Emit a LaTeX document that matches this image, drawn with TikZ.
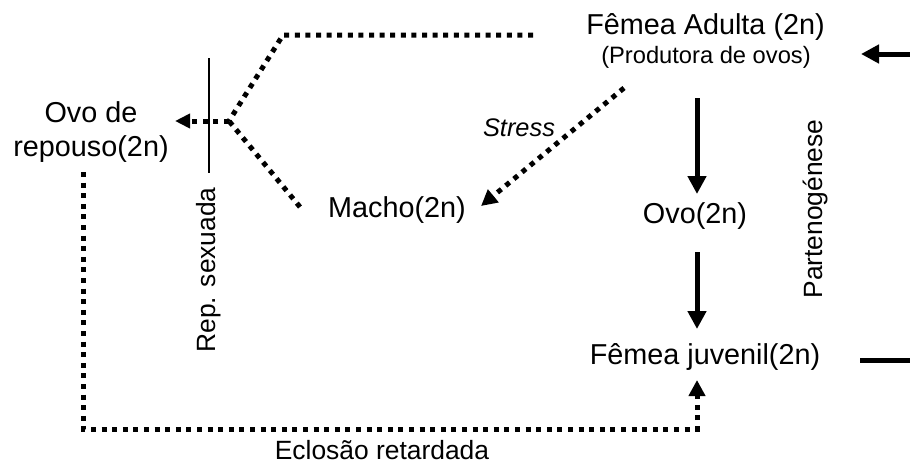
\documentclass[tikz,border=0pt]{standalone}
\usepackage{fontspec}
\setmainfont{Liberation Sans}
\usetikzlibrary{arrows.meta}
\begin{document}
\begin{tikzpicture}[x=1pt,y=-1pt,
  lbl/.style={inner sep=0pt, font=\fontsize{28.8}{34}\selectfont, align=center},
  smlbl/.style={inner sep=0pt, font=\fontsize{26.4}{31}\selectfont},
  sublbl/.style={inner sep=0pt, font=\fontsize{23.7}{28}\selectfont},
  dotline/.style={line width=5pt, dash pattern=on 5pt off 5.6pt},
  solidarr/.style={line width=5pt, -{Triangle[length=18pt,width=18pt]}},
  dotarr/.style={dotline, -{Triangle[length=16pt,width=16pt]}},
  thinline/.style={line width=1.8pt}
]
\useasboundingbox (0,0) rectangle (910,466);

% labels
\node[lbl] (fa) at (705.5,27) {Fêmea Adulta (2n)};
\node[sublbl] (fasub) at (706,57) {(Produtora de ovos)};
\node[lbl] (ovo) at (695,216) {Ovo(2n)};
\node[lbl] (fj) at (705,357) {Fêmea juvenil(2n)};
\node[lbl] (macho) at (397,210) {Macho(2n)};
\node[lbl] (ovorep) at (91,132) {Ovo de\\repouso(2n)};
\node[inner sep=0pt, font=\fontsize{25.4}{30}\selectfont\itshape] (stress) at (519,128) {Stress};
\node[smlbl, rotate=90] (parten) at (816,209) {Partenogénese};
\node[smlbl, rotate=90] (repsex) at (209,270) {Rep. sexuada};
\node[smlbl, anchor=base] (eclosao) at (382,459.5) {Eclosão retardada};

% connector coordinates
\coordinate (a1) at (697,98);
\coordinate (a2) at (697,194);
\coordinate (b1) at (697,252);
\coordinate (b2) at (697,329);
\coordinate (rin) at (910,54);
\coordinate (rintip) at (861,54);
\coordinate (rout) at (860,360.5);
\coordinate (routend) at (910,360.5);
\coordinate (topend) at (533,35);
\coordinate (topbend) at (283,35);
\coordinate (junc) at (229,121);
\coordinate (reptip) at (175,121);
\coordinate (machoend) at (300,207);
\coordinate (stressstart) at (624,88);
\coordinate (stresstip) at (481,206);
\coordinate (bot1) at (83,172);
\coordinate (bot2) at (83,429);
\coordinate (bot3) at (697,429);
\coordinate (bottip) at (697,380);
\coordinate (div1) at (209,58);
\coordinate (div2) at (209,173);

% solid arrows
\draw[solidarr] (a1) -- (a2);
\draw[solidarr] (b1) -- (b2);
\draw[solidarr] (rin) -- (rintip);
\draw[line width=5pt] (rout) -- (routend);

% sexual reproduction branch
\draw[dotline] (topend) -- (topbend) -- (junc);
\draw[dotline] (machoend) -- (junc);
\draw[dotarr, -{Triangle[length=15pt,width=14pt]}] (junc) -- (reptip);
\draw[thinline] (div1) -- (div2);

% stress arrow
\draw[dotarr] (stressstart) -- (stresstip);

% delayed hatching
\draw[dotarr] (bot1) -- (bot2) -- (bot3) -- (bottip);
\end{tikzpicture}
\end{document}
